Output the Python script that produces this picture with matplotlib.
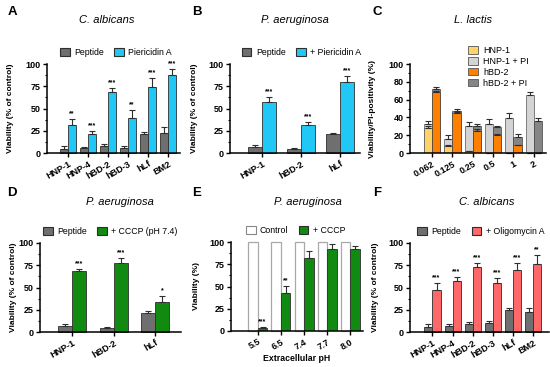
import matplotlib
matplotlib.use("Agg")
import matplotlib.pyplot as plt
import numpy as np
from matplotlib.patches import Patch
from matplotlib.ticker import AutoMinorLocator

plt.rcParams['font.family'] = ['Liberation Sans', 'DejaVu Sans']

# ---- data ----
a_labels = ['HNP-1', 'HNP-4', 'hBD-2', 'hBD-3', 'hLf', 'BM2']
a_pep = [5, 5.5, 8, 6, 21, 23]
a_pep_err = [3, 1.5, 2, 2, 3, 6]
a_pier = [32, 21, 68, 39, 74, 88]
a_pier_err = [6, 4, 5, 9, 10, 6]
a_stars = ['**', '***', '***', '**', '***', '***']

b_labels = ['HNP-1', 'hBD-2', 'hLf']
b_pep = [7, 4, 21]
b_pep_err = [2.5, 2, 2]
b_pier = [57, 32, 80]
b_pier_err = [6, 3, 6]
b_stars = ['***', '***', '***']

c_labels = ['0.062', '0.125', '0.25', '0.5', '1', '2']
c_hnp = [28, 8, 2, 0.5, 0, 0]
c_hnp_err = [2, 1, 0.5, 0, 0, 0]
c_hnp_pi = [33, 16, 30.5, 33, 39, 65]
c_hnp_pi_err = [2.5, 4, 4, 5, 5.5, 3.5]
c_hbd = [69, 44.5, 25, 20, 8.5, 0]
c_hbd_err = [1, 1.5, 1.5, 1, 1, 0]
c_hbd_pi = [72, 47.5, 30.5, 29, 18, 36]
c_hbd_pi_err = [2, 2, 2.5, 1.5, 3.5, 3]

d_labels = ['HNP-1', 'hBD-2', 'hLf']
d_pep = [7, 4, 21]
d_pep_err = [2, 2, 3]
d_cccp = [68, 77, 34]
d_cccp_err = [3, 6, 6]
d_stars = ['***', '***', '*']

e_labels = ['5.5', '6.5', '7.4', '7.7', '8.0']
e_ctrl = [100, 100, 100, 100, 100]
e_cccp = [3, 43, 82, 92, 92]
e_cccp_err = [2, 8, 8, 6, 3]
e_stars = ['***', '**', '', '', '']

f_labels = ['HNP-1', 'HNP-4', 'hBD-2', 'hBD-3', 'hLf', 'BM2']
f_pep = [6, 7, 8.5, 10, 25, 22]
f_pep_err = [3, 2, 3, 2, 2, 4.5]
f_olig = [47, 57, 73, 55, 70, 76]
f_olig_err = [8, 5, 4, 6, 7, 11]
f_stars = ['***', '***', '***', '***', '***', '**']

GRAY = '#6f6f6f'
CYAN = '#22c8f5'
GREEN = '#108a10'
RED = '#ff6868'
YELLOW = '#ffd36b'
ORANGE = '#ff8000'
LGRAY = '#d4d4d4'
DGRAY = '#858585'
EDGE = '#2e2e2e'

W, H = 550, 367
fig = plt.figure(figsize=(W / 100, H / 100), dpi=100)


def px_axes(x0, y0, x1, y1):
    return fig.add_axes([x0 / W, 1 - y1 / H, (x1 - x0) / W, (y1 - y0) / H])


def style(ax, ylabel, yticks, labels, xlim, ylab_x):
    ax.spines['top'].set_visible(False)
    ax.spines['right'].set_visible(False)
    for s in ('left', 'bottom'):
        ax.spines[s].set_linewidth(1.1)
    ax.set_ylim(0, 100)
    ax.set_xlim(*xlim)
    ax.set_yticks(yticks)
    ax.yaxis.set_minor_locator(AutoMinorLocator(2))
    ax.set_xticks(np.arange(len(labels)))
    ax.set_xticklabels(labels, rotation=30, ha='right', rotation_mode='anchor')
    ax.tick_params(axis='both', which='major', length=3, width=1, labelsize=6.5, pad=1.5)
    ax.tick_params(axis='y', which='minor', length=1.5, width=0.8)
    for t in ax.get_xticklabels() + ax.get_yticklabels():
        t.set_fontweight('bold')
    ax.set_ylabel(ylabel, fontsize=6, fontweight='bold')
    ax.yaxis.set_label_coords(ylab_x, 0.5)


def ebars(ax, x, y, err):
    ax.errorbar(x, y, yerr=[np.zeros(len(err)), err], fmt='none', ecolor=EDGE,
                elinewidth=0.8, capsize=2, capthick=0.8, clip_on=False)


def grouped(ax, n, s1, e1, s2, e2, c1, c2, w, stars):
    x = np.arange(n)
    ax.bar(x - w / 2, s1, w, color=c1, edgecolor=EDGE, linewidth=0.6, clip_on=False)
    ax.bar(x + w / 2, s2, w, color=c2, edgecolor=EDGE, linewidth=0.6, clip_on=False)
    ebars(ax, x - w / 2, s1, e1)
    ebars(ax, x + w / 2, s2, e2)
    for i, s in enumerate(stars):
        if s:
            ax.text(x[i] + w / 2, s2[i] + e2[i] + 2, s, ha='center', va='bottom',
                    fontsize=5, fontweight='bold')


def top_legend(ax, names, colors, xc, edges=None):
    if edges is None:
        edges = [EDGE] * len(colors)
    handles = [Patch(facecolor=c, edgecolor=e, linewidth=0.8) for c, e in zip(colors, edges)]
    ax.legend(handles, names, loc='center', bbox_to_anchor=(xc, 1.13), ncol=2,
              frameon=False, fontsize=6.3, handlelength=1.1, handleheight=0.9,
              columnspacing=1.2, handletextpad=0.5, borderaxespad=0, borderpad=0)


# A
ax = px_axes(47, 64, 180, 153)
grouped(ax, 6, a_pep, a_pep_err, a_pier, a_pier_err, GRAY, CYAN, 0.4, a_stars)
style(ax, 'Viability (% of control)', [0, 25, 50, 75, 100], a_labels, (-1.05, 5.6), -0.248)
top_legend(ax, ['Peptide', 'Piericidin A'], [GRAY, CYAN], 0.52)

# B
ax = px_axes(230, 64, 360, 153)
grouped(ax, 3, b_pep, b_pep_err, b_pier, b_pier_err, GRAY, CYAN, 0.36, b_stars)
style(ax, 'Viability (% of control)', [0, 25, 50, 75, 100], b_labels, (-0.82, 2.51), -0.246)
top_legend(ax, ['Peptide', '+ Piericidin A'], [GRAY, CYAN], 0.55)

# C
ax = px_axes(410, 64, 546, 153)
x = np.arange(len(c_labels))
w = 0.4
ax.bar(x - w / 2, c_hnp_pi, w, color=LGRAY, edgecolor='#555555', linewidth=0.5)
ax.bar(x - w / 2, c_hnp, w, color=YELLOW, edgecolor='#555555', linewidth=0.5)
ax.bar(x + w / 2, c_hbd_pi, w, color=DGRAY, edgecolor='#444444', linewidth=0.5)
ax.bar(x + w / 2, c_hbd, w, color=ORANGE, edgecolor='#444444', linewidth=0.5)
ebars(ax, x - w / 2, c_hnp_pi, c_hnp_pi_err)
ebars(ax, x - w / 2, c_hnp, c_hnp_err)
ebars(ax, x + w / 2, c_hbd_pi, c_hbd_pi_err)
ebars(ax, x + w / 2, c_hbd, c_hbd_err)
style(ax, 'Viability/PI-positivity (%)', [0, 20, 40, 60, 80, 100], c_labels, (-1.09, 5.6), -0.25)
handles = [Patch(facecolor=c, edgecolor='#555555', linewidth=0.6)
           for c in (YELLOW, LGRAY, ORANGE, DGRAY)]
ax.legend(handles, ['HNP-1', 'HNP-1 + PI', 'hBD-2', 'hBD-2 + PI'], loc='upper left',
          bbox_to_anchor=(0.43, 1.2), frameon=False, fontsize=6.5, handlelength=1.1,
          handleheight=0.9, labelspacing=0.2, handletextpad=0.5, borderaxespad=0,
          borderpad=0)

# D
ax = px_axes(40, 243, 181, 332)
grouped(ax, 3, d_pep, d_pep_err, d_cccp, d_cccp_err, GRAY, GREEN, 0.34, d_stars)
style(ax, 'Viability (% of control)', [0, 25, 50, 75, 100], d_labels, (-0.78, 2.63), -0.163)
top_legend(ax, ['Peptide', '+ CCCP (pH 7.4)'], [GRAY, GREEN], 0.50)

# E
ax = px_axes(231, 242, 363, 331)
x = np.arange(len(e_labels))
w = 0.41
ax.bar(x - w / 2, e_ctrl, w, color='white', edgecolor='#a8a8a8', linewidth=0.9, clip_on=False)
ax.bar(x + w / 2, e_cccp, w, color=GREEN, edgecolor=EDGE, linewidth=0.6)
ebars(ax, x + w / 2, e_cccp, e_cccp_err)
for i, s in enumerate(e_stars):
    if s:
        ax.text(x[i] + w / 2, e_cccp[i] + e_cccp_err[i] + 2, s, ha='center', va='bottom',
                fontsize=5, fontweight='bold')
style(ax, 'Viability (%)', [0, 25, 50, 75, 100], e_labels, (-1.16, 4.55), -0.235)
ax.set_xlabel('Extracellular pH', fontsize=6.3, fontweight='bold', labelpad=2)
top_legend(ax, ['Control', '+ CCCP'], ['white', GREEN], 0.49, edges=['#888888', EDGE])

# F
ax = px_axes(410, 243, 549, 332)
grouped(ax, 6, f_pep, f_pep_err, f_olig, f_olig_err, GRAY, RED, 0.4, f_stars)
style(ax, 'Viability (% of control)', [0, 25, 50, 75, 100], f_labels, (-1.12, 5.8), -0.223)
top_legend(ax, ['Peptide', '+ Oligomycin A'], [GRAY, RED], 0.51)

# titles and panel letters
titles = [(107, 20, 'C. albicans'), (295, 20, 'P. aeruginosa'), (473, 20, 'L. lactis'),
          (120, 202, 'P. aeruginosa'), (308, 202, 'P. aeruginosa'), (487, 202, 'C. albicans')]
for tx, ty, t in titles:
    fig.text(tx / W, 1 - ty / H, t, ha='center', va='center', fontsize=8, style='italic')
letters = [(12, 12, 'A'), (197, 12, 'B'), (377, 12, 'C'),
           (12, 193, 'D'), (197, 193, 'E'), (377, 193, 'F')]
for lx, ly, t in letters:
    fig.text(lx / W, 1 - ly / H, t, ha='center', va='center', fontsize=9.5, fontweight='bold')

fig.savefig('out.png', dpi=100)
